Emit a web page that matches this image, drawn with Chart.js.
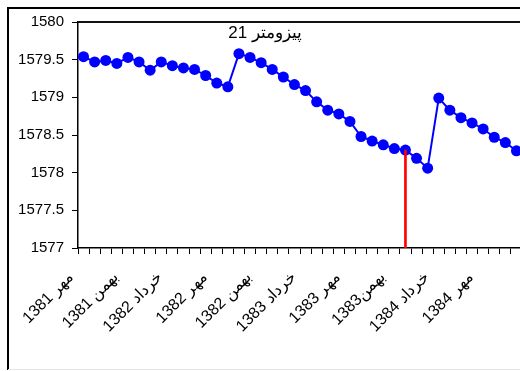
<!DOCTYPE html>
<html>
<head>
<meta charset="utf-8">
<script src="https://cdn.jsdelivr.net/npm/chart.js@4.4.0/dist/chart.umd.min.js"></script>
<style>
html, body { margin: 0; padding: 0; background: #fff; overflow: hidden; }
#wrap { width: 530px; height: 371px; }
</style>
</head>
<body>
<div id="wrap"><canvas id="myChart" width="530" height="371"></canvas></div>
<script>
// monthly categories, one label every 4 months is shown
const months = [
    'مهر 1381', 'آبان 1381', 'آذر 1381', 'دی 1381',
    'بهمن 1381', 'اسفند 1381', 'فروردین 1382', 'اردیبهشت 1382',
    'خرداد 1382', 'تیر 1382', 'مرداد 1382', 'شهریور 1382',
    'مهر 1382', 'آبان 1382', 'آذر 1382', 'دی 1382',
    'بهمن 1382', 'اسفند 1382', 'فروردین 1383', 'اردیبهشت 1383',
    'خرداد 1383', 'تیر 1383', 'مرداد 1383', 'شهریور 1383',
    'مهر 1383', 'آبان 1383', 'آذر 1383', 'دی 1383',
    'بهمن1383', 'اسفند 1383', 'فروردین 1384', 'اردیبهشت 1384',
    'خرداد 1384', 'تیر 1384', 'مرداد 1384', 'شهریور 1384',
    'مهر 1384', 'آبان 1384', 'آذر 1384', 'دی 1384'
];

// water level (m)
const levels = [
    1579.54, 1579.47, 1579.49, 1579.45, 1579.53, 1579.47, 1579.36, 1579.47,
    1579.42, 1579.39, 1579.37, 1579.29, 1579.19, 1579.14, 1579.58, 1579.53,
    1579.46, 1579.37, 1579.27, 1579.17, 1579.09, 1578.94, 1578.83, 1578.78,
    1578.68, 1578.48, 1578.42, 1578.37, 1578.32, 1578.30, 1578.19, 1578.06,
    1578.99, 1578.83, 1578.73, 1578.66, 1578.58, 1578.47, 1578.40, 1578.29
];

// red marker line
const marker = [
    null, null, null, null, null, null, null, null, null, null,
    null, null, null, null, null, null, null, null, null, null,
    null, null, null, null, null, null, null, null, null, 1578.30,
    null, null, null, null, null, null, null, null, null, null
];

const chartTitle = 'پیزومتر 21';
const yMin = 1577;
const yMax = 1580;
const yStep = 0.5;

const FONT = "'Liberation Sans', Arial, sans-serif";

let framePlugin = {
    id: 'frame',
    beforeDraw: function(chart){
        let ctx = chart.ctx;
        ctx.save();
        ctx.fillStyle = '#ffffff';
        ctx.fillRect(0, 0, chart.width, chart.height);
        ctx.restore();
    },
    afterDraw: function(chart){
        let ctx = chart.ctx;
        let a = chart.chartArea;
        ctx.save();
        // outer frame
        ctx.strokeStyle = '#000000';
        ctx.lineWidth = 2;
        ctx.beginPath();
        ctx.moveTo(8, 370);
        ctx.lineTo(8, 8);
        ctx.lineTo(chart.width, 8);
        ctx.stroke();
        ctx.strokeStyle = '#e4e4e4';
        ctx.lineWidth = 1;
        ctx.beginPath();
        ctx.moveTo(8, 369.5);
        ctx.lineTo(chart.width, 369.5);
        ctx.stroke();
        // plot area top border
        ctx.strokeStyle = '#111111';
        ctx.lineWidth = 2;
        ctx.beginPath();
        ctx.moveTo(a.left, a.top);
        ctx.lineTo(a.right, a.top);
        ctx.stroke();
        // title
        ctx.fillStyle = '#000000';
        ctx.font = '17px ' + FONT;
        ctx.textAlign = 'center';
        ctx.textBaseline = 'middle';
        ctx.fillText(chartTitle, chart.width / 2, 33);
        ctx.restore();
    }
};

let ctx = document.getElementById('myChart');
let myChart = new Chart(ctx, {
    type: 'line',
    data: {
        labels: months,
        datasets: [{
            type: 'bar',
            data: marker,
            backgroundColor: '#ff0000',
            barThickness: 2,
            order: 0
        }, {
            type: 'line',
            data: levels,
            borderColor: '#0000ff',
            borderWidth: 2,
            pointRadius: 5.5,
            pointBackgroundColor: '#0000ff',
            pointBorderWidth: 0,
            pointHoverRadius: 5.5,
            tension: 0,
            order: 1
        }]
    },
    plugins: [framePlugin],
    options: {
        responsive: false,
        animation: false,
        events: [],
        layout: {
            padding: {left: 8, top: 22, right: 8, bottom: 0}
        },
        plugins: {
            legend: {display: false},
            title: {display: false},
            tooltip: {enabled: false}
        },
        scales: {
            x: {
                type: 'category',
                offset: true,
                grid: {
                    offset: true,
                    drawOnChartArea: false,
                    drawTicks: true,
                    tickLength: 6,
                    color: '#000000'
                },
                border: {color: '#000000', width: 1.5},
                ticks: {
                    autoSkip: false,
                    minRotation: 45,
                    maxRotation: 45,
                    color: '#000000',
                    padding: 14,
                    labelOffset: -12,
                    font: {family: FONT, size: 16},
                    callback: function(value, index){
                        return index % 4 === 0 ? months[index] : '';
                    }
                },
                afterFit: function(scale){
                    scale.height = 123;
                    scale.paddingLeft = 0;
                    scale.paddingRight = 0;
                }
            },
            y: {
                min: yMin,
                max: yMax,
                grid: {
                    drawOnChartArea: false,
                    drawTicks: true,
                    tickLength: 6,
                    color: '#000000'
                },
                border: {color: '#000000', width: 1.5},
                ticks: {
                    stepSize: yStep,
                    color: '#000000',
                    padding: 8,
                    font: {family: FONT, size: 15},
                    callback: function(value){
                        return String(value);
                    }
                },
                afterFit: function(scale){
                    scale.width = 70;
                }
            }
        }
    }
});
</script>
</body>
</html>
